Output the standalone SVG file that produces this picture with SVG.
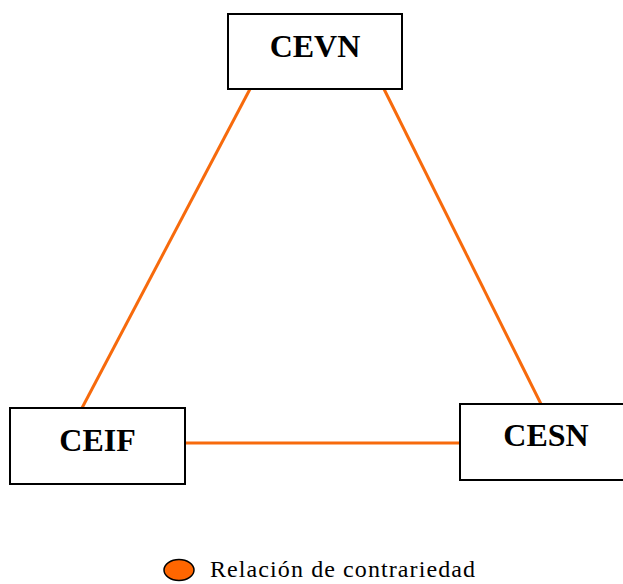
<svg xmlns="http://www.w3.org/2000/svg" width="623" height="584" viewBox="0 0 623 584">
<style>
.box{fill:#fff;stroke:#000;stroke-width:2}
.lbl{font-family:"Liberation Serif","Times New Roman",serif;font-weight:bold;font-size:32px;fill:#000}
.con{stroke:#F76A0C;stroke-width:3;fill:none}
.leg{font-family:"Liberation Serif","Times New Roman",serif;font-size:24px;fill:#000}
</style>
<rect width="623" height="584" fill="#fff"/>
<g id="connectors">
<line class="con" x1="250" y1="89" x2="82" y2="408"/>
<line class="con" x1="384" y1="89" x2="541" y2="404"/>
<line class="con" x1="185" y1="443" x2="459" y2="443"/>
</g>
<g id="CEVN">
<rect class="box" x="228" y="14" width="174" height="75"/>
<text class="lbl" x="315" y="57" text-anchor="middle">CEVN</text>
</g>
<g id="CEIF">
<rect class="box" x="10" y="408" width="175" height="76"/>
<text class="lbl" x="97.5" y="451" text-anchor="middle">CEIF</text>
</g>
<g id="CESN">
<rect class="box" x="460" y="404" width="175" height="76"/>
<text class="lbl" x="546" y="446" text-anchor="middle">CESN</text>
</g>
<g id="legend">
<ellipse cx="179" cy="570" rx="15" ry="10.5" fill="#FF6600" stroke="#000" stroke-width="1.5"/>
<text class="leg" x="210" y="577" textLength="265">Relación de contrariedad</text>
</g>
</svg>
